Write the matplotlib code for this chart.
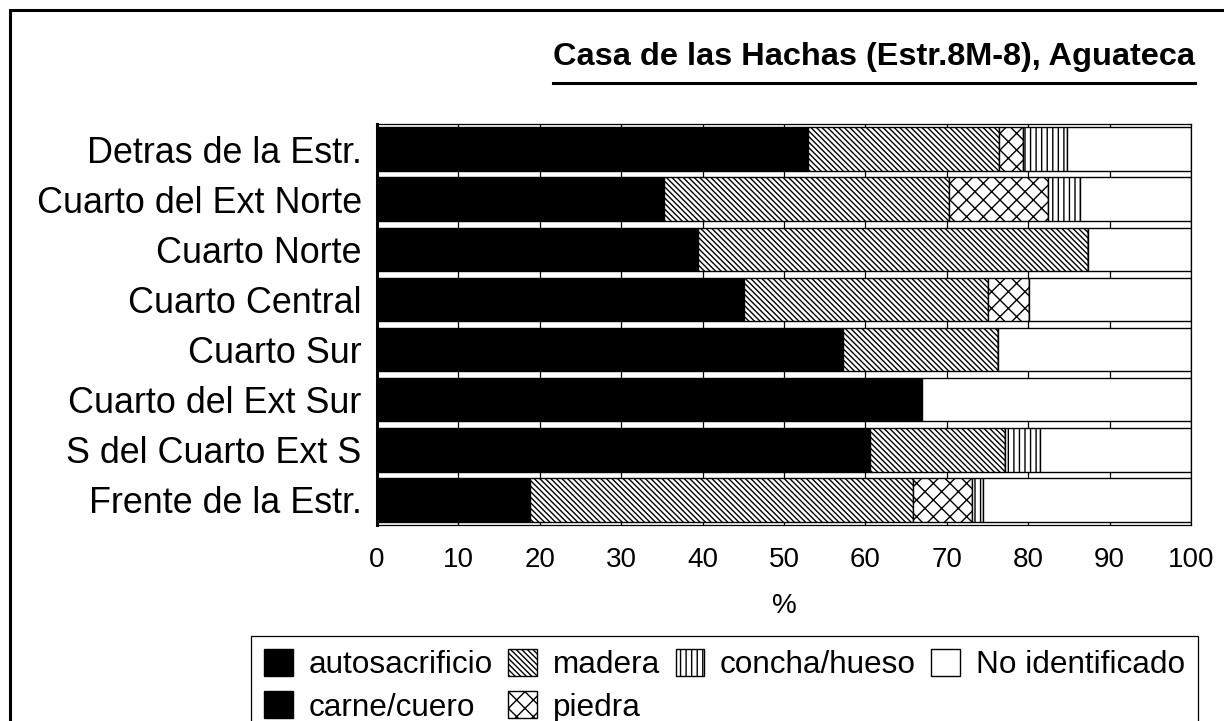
import matplotlib
matplotlib.use('Agg')
import matplotlib.pyplot as plt
from matplotlib.patches import Rectangle
from matplotlib.lines import Line2D

plt.rcParams['hatch.linewidth'] = 1.0

categories = ['Detras de la Estr.', 'Cuarto del Ext Norte', 'Cuarto Norte',
              'Cuarto Central', 'Cuarto Sur', 'Cuarto del Ext Sur',
              'S del Cuarto Ext S', 'Frente de la Estr.']

autosacrificio = [52.9, 35.2, 39.4, 45.1, 57.2, 66.9, 60.6, 18.8]
carne_cuero = [0, 0, 0, 0, 0, 0, 0, 0]
madera = [23.5, 35.1, 47.9, 29.9, 19.1, 0, 16.6, 47.1]
piedra = [2.9, 12.1, 0, 5.1, 0, 0, 0, 7.2]
concha_hueso = [5.5, 4.0, 0, 0, 0, 0, 4.2, 1.3]
no_identificado = [15.2, 13.6, 12.7, 19.9, 23.7, 33.1, 18.6, 25.6]

xticks = [0, 10, 20, 30, 40, 50, 60, 70, 80, 90, 100]

fam = ['Liberation Sans', 'DejaVu Sans']

series = [
    ('autosacrificio', autosacrificio, 'black', None),
    ('carne/cuero', carne_cuero, 'black', None),
    ('madera', madera, 'white', '\\' * 6),
    ('piedra', piedra, 'white', 'xx'),
    ('concha/hueso', concha_hueso, 'white', '|||'),
    ('No identificado', no_identificado, 'white', None),
]

W, H = 1224, 721
fig = plt.figure(figsize=(W / 100, H / 100), dpi=100)
ax = fig.add_axes([377 / W, 1 - 525 / H, (1191 - 377) / W, (525 - 124) / H])

ypos = list(range(len(categories)))
left = [0.0] * len(categories)
handles = {}
for name, vals, fc, hatch in series:
    bars = ax.barh(ypos, vals, left=left, height=0.87, color=fc,
                   edgecolor='black', linewidth=1.0, hatch=hatch, label=name)
    handles[name] = bars
    left = [l + v for l, v in zip(left, vals)]

ax.set_xlim(0, 100)
ax.set_ylim(len(categories) - 0.5, -0.5)
ax.set_xticks(xticks)
ax.set_yticks(ypos)
ax.set_yticklabels(categories, family=fam, fontsize=25.8)
ax.set_xticklabels([str(t) for t in xticks], family=fam, fontsize=20)
ax.tick_params(axis='y', length=0, pad=11)
ax.tick_params(axis='x', length=0, pad=16)
ax.set_axisbelow(True)
ax.xaxis.grid(True, color='black', linewidth=0.9)
for s in ['top', 'right', 'bottom']:
    ax.spines[s].set_linewidth(0.9)
ax.spines['left'].set_linewidth(2.2)
ax.set_xlabel('%', family=fam, fontsize=20, labelpad=14)

order = ['autosacrificio', 'carne/cuero', 'madera', 'piedra',
         'concha/hueso', 'No identificado']
leg = fig.legend([handles[k] for k in order], order, loc='upper left',
                 bbox_to_anchor=(251 / W, 1 - 636 / H), borderaxespad=0,
                 ncol=4, fancybox=False, edgecolor='black', framealpha=1,
                 prop={'family': fam, 'size': 22.7},
                 handlelength=0.9, handleheight=0.92, handletextpad=0.5,
                 columnspacing=0.5, labelspacing=0.35, borderpad=0.42)
leg.get_frame().set_linewidth(0.9)

title = fig.text(1195 / W, 1 - 57 / H, 'Casa de las Hachas (Estr.8M-8), Aguateca',
                 ha='right', va='center', fontsize=23.4, fontweight='bold',
                 family=fam)

# underline the title
fig.canvas.draw()
bb = title.get_window_extent()
fig.add_artist(Line2D([bb.x0 / W, bb.x1 / W], [1 - 83 / H, 1 - 83 / H],
                      transform=fig.transFigure, color='black', linewidth=2.2))

# outer frame
fig.add_artist(Rectangle((10 / W, -0.1), 1.2, 1.1 - 10 / H, transform=fig.transFigure,
                         fill=False, edgecolor='black', linewidth=2.2))

fig.savefig('out.png', dpi=100)
